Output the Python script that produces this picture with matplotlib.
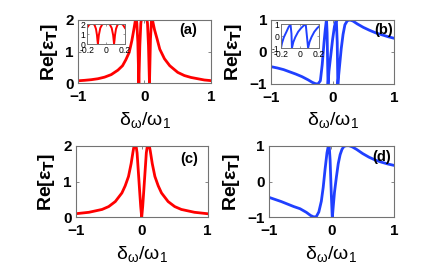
import matplotlib
matplotlib.use('Agg')
import matplotlib.pyplot as plt

plt.rcParams['font.family'] = ['Liberation Sans', 'DejaVu Sans']
plt.rcParams['mathtext.default'] = 'regular'

# values
x_a = [-1.0, -0.9, -0.8, -0.7, -0.6, -0.5, -0.4, -0.33, -0.28, -0.23, -0.19, -0.16, -0.14,
       -0.128, -0.115, -0.1, -0.085, -0.07, -0.055, -0.04, 0.0, 0.03, 0.045, 0.06, 0.075,
       0.09, 0.108, 0.125, 0.15, 0.19, 0.23, 0.3, 0.38, 0.5, 0.6, 0.7, 0.8, 0.9, 1.0]
y_a = [0.085, 0.10, 0.12, 0.15, 0.2, 0.28, 0.42, 0.56, 0.75, 0.98, 1.35, 1.7, 1.95,
       2.1, 1.9, 1.3, 0.0, 1.2, 1.9, 2.1, 2.2, 2.1, 1.9, 1.2, 0.0,
       1.4, 2.1, 1.95, 1.7, 1.4, 1.08, 0.78, 0.56, 0.35, 0.25, 0.19, 0.15, 0.11, 0.09]

x_a_in = [-0.2, -0.18, -0.16, -0.14, -0.12, -0.105, -0.095, -0.09, -0.085, -0.075, -0.06,
          -0.04, -0.02, 0.0, 0.02, 0.04, 0.06, 0.075, 0.085, 0.09, 0.095, 0.105, 0.12,
          0.14, 0.16, 0.18, 0.2]
y_a_in = [1.6, 1.9, 2.05, 2.05, 1.9, 1.5, 0.9, 0.4, 0.0, 0.9, 1.6,
          1.95, 2.05, 2.1, 2.05, 1.95, 1.6, 0.9, 0.0, 0.4, 0.9, 1.5, 1.9,
          2.05, 2.05, 1.9, 1.6]

x_b = [-1.0, -0.9, -0.8, -0.7, -0.6, -0.5, -0.4, -0.33, -0.28, -0.24, -0.2, -0.17, -0.14,
       -0.12, -0.1, -0.09, -0.08, -0.075, -0.06, -0.03, 0.0, 0.03, 0.06, 0.075, 0.085,
       0.09, 0.11, 0.14, 0.17, 0.2, 0.24, 0.28, 0.33, 0.4, 0.5, 0.6, 0.7, 0.8, 0.9, 1.0]
y_b = [-0.46, -0.5, -0.55, -0.62, -0.69, -0.77, -0.87, -0.95, -0.99, -1.0, -0.9, -0.4, 0.3,
       0.7, 1.02, 0.6, -0.5, -1.02, -0.6, -0.1, 0.4, 0.8, 1.02, 0.3, -1.02,
       -0.9, -0.5, 0.1, 0.55, 0.85, 0.98, 1.0, 0.97, 0.88, 0.77, 0.68, 0.6, 0.54, 0.48, 0.43]

x_b_in = [-0.2, -0.19, -0.17, -0.14, -0.12, -0.1, -0.09, -0.085, -0.07, -0.05, -0.02, 0.01,
          0.04, 0.06, 0.07, 0.085, 0.1, 0.12, 0.15, 0.18, 0.2]
y_b_in = [-1.0, -0.6, -0.1, 0.4, 0.75, 0.98, 0.2, -1.0, -0.5, -0.1, 0.35, 0.65,
          0.88, 0.98, 0.2, -1.0, -0.5, -0.1, 0.35, 0.65, 0.8]

x_c = [-1.0, -0.9, -0.8, -0.7, -0.6, -0.5, -0.4, -0.3, -0.25, -0.2, -0.16, -0.13, -0.11,
       -0.09, -0.07, -0.05, -0.03, -0.015, 0.0, 0.015, 0.03, 0.05, 0.07, 0.09, 0.11,
       0.13, 0.16, 0.2, 0.25, 0.3, 0.4, 0.5, 0.6, 0.7, 0.8, 0.9, 1.0]
y_c = [0.1, 0.12, 0.14, 0.18, 0.22, 0.3, 0.44, 0.68, 0.88, 1.14, 1.5, 1.85, 2.05,
       2.05, 1.8, 1.25, 0.7, 0.3, 0.0, 0.3, 0.7, 1.25, 1.8, 2.05, 2.05,
       1.85, 1.5, 1.14, 0.88, 0.68, 0.44, 0.3, 0.22, 0.18, 0.14, 0.12, 0.1]

x_d = [-1.0, -0.9, -0.8, -0.7, -0.6, -0.5, -0.4, -0.33, -0.28, -0.24, -0.2, -0.16, -0.13,
       -0.1, -0.07, -0.05, -0.035, -0.02, 0.0, 0.015, 0.03, 0.05, 0.08, 0.11, 0.14,
       0.17, 0.2, 0.24, 0.28, 0.33, 0.4, 0.5, 0.6, 0.7, 0.8, 0.9, 1.0]
y_d = [-0.44, -0.5, -0.56, -0.63, -0.7, -0.76, -0.86, -0.95, -0.99, -0.98, -0.85, -0.55, -0.16,
       0.35, 0.8, 0.98, 1.02, 0.6, -0.4, -1.02, -0.7, -0.3, 0.12, 0.5, 0.75,
       0.9, 0.98, 1.0, 1.0, 0.97, 0.9, 0.78, 0.68, 0.6, 0.54, 0.49, 0.45]

main_xticks = [-1, 0, 1]
main_xticklabels = ['\u22121', '0', '1']
inset_xticks = [-0.2, 0, 0.2]
inset_xticklabels = ['-0.2', '0', '0.2']

red = '#ff0000'
blue = '#2040ff'
frame = '0.45'

fig = plt.figure(figsize=(4.36, 2.67), dpi=100)


def style_main(ax, ylim, yticks, yticklabels, label, lx, ly):
    ax.set_xlim(-1, 1)
    ax.set_ylim(*ylim)
    ax.set_xticks(main_xticks)
    ax.set_xticklabels(main_xticklabels)
    ax.set_yticks(yticks)
    ax.set_yticklabels(yticklabels)
    ax.tick_params(direction='in', length=2.5, width=0.6, color=frame,
                   top=True, right=True, labelsize=11)
    ax.tick_params(axis='x', pad=5)
    ax.tick_params(axis='y', pad=3)
    for t in ax.get_xticklabels() + ax.get_yticklabels():
        t.set_fontweight('bold')
    for s in ax.spines.values():
        s.set_color(frame)
        s.set_linewidth(0.8)
    ax.set_xlabel(r'$\delta_\omega/\omega_1$', fontsize=14, labelpad=4)
    ax.set_ylabel(r'Re[$\varepsilon_\mathbf{T}$]', fontsize=14, fontweight='bold', labelpad=4)
    ax.text(lx, ly, label, transform=ax.transAxes, ha='right', va='center',
            fontsize=10.5, fontweight='bold')


def style_inset(ax, ylim, yticks, yticklabels):
    ax.set_xlim(-0.2, 0.2)
    ax.set_ylim(*ylim)
    ax.set_xticks(inset_xticks)
    ax.set_xticklabels(inset_xticklabels)
    ax.set_yticks(yticks)
    ax.set_yticklabels(yticklabels)
    ax.tick_params(direction='in', length=1.5, width=0.5, color=frame,
                   top=True, right=True, labelsize=6.2, pad=1)
    ax.tick_params(axis='x', pad=1.5)
    for s in ax.spines.values():
        s.set_color(frame)
        s.set_linewidth(0.7)


# (a)
ax1 = fig.add_axes([0.1789, 0.6873, 0.305, 0.2378])
ax1.plot(x_a, y_a, color=red, lw=2)
style_main(ax1, (0, 2), [0, 1, 2], ['0', '1', '2'], '(a)', 0.895, 0.84)
in1 = fig.add_axes([0.1995, 0.835, 0.0872, 0.075])
in1.plot(x_a_in, y_a_in, color=red, lw=1.4)
style_inset(in1, (0, 2), [0, 1, 2], ['0', '1', '2'])

# (b)
ax2 = fig.add_axes([0.6222, 0.6854, 0.2814, 0.2397])
ax2.plot(x_b, y_b, color=blue, lw=2)
style_main(ax2, (-1, 1), [-1, 0, 1], ['\u22121', '0', '1'], '(b)', 0.99, 0.84)
in2 = fig.add_axes([0.6445, 0.820, 0.0872, 0.09])
in2.plot(x_b_in, y_b_in, color=blue, lw=1.4)
style_inset(in2, (-1, 1), [-1, 0, 1], ['-1', '0', '1'])

# (c)
ax3 = fig.add_axes([0.1736, 0.1861, 0.3028, 0.2682])
ax3.plot(x_c, y_c, color=red, lw=2)
style_main(ax3, (0, 2), [0, 1, 2], ['0', '1', '2'], '(c)', 0.93, 0.81)

# (d)
ax4 = fig.add_axes([0.6163, 0.1861, 0.2874, 0.2682])
ax4.plot(x_d, y_d, color=blue, lw=2)
style_main(ax4, (-1, 1), [-1, 0, 1], ['\u22121', '0', '1'], '(d)', 0.976, 0.84)

fig.savefig('out.png', dpi=100)
